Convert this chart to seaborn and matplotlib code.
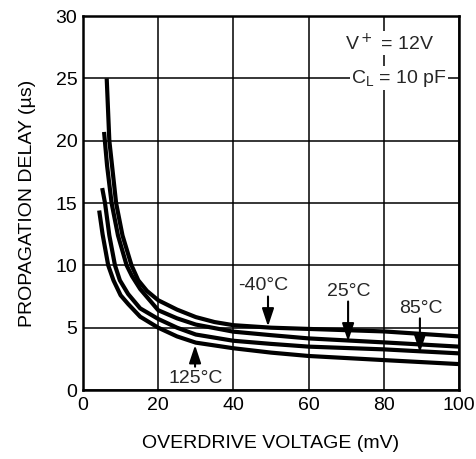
import matplotlib
matplotlib.use("Agg")
import matplotlib.pyplot as plt
import seaborn as sns
import pandas as pd

# Data
temps = ["-40°C", "25°C", "85°C", "125°C"]
x_m40 = [6.3, 7.0, 8.8, 10.5, 12.9, 14.7, 17, 20, 25, 30, 35, 40, 50, 60, 80, 100]
y_m40 = [25.0, 20.0, 15.0, 12.4, 10.0, 8.8, 7.95, 7.2, 6.45, 5.85, 5.45, 5.2, 5.0, 4.9, 4.7, 4.3]
x_25 = [5.6, 6.4, 7.6, 9.3, 11.6, 13, 15.2, 20, 25, 30, 40, 50, 60, 80, 100]
y_25 = [20.7, 18.0, 15.0, 12.4, 10.0, 9.15, 8.1, 6.4, 5.75, 5.25, 4.68, 4.4, 4.14, 3.82, 3.48]
x_85 = [5.1, 5.85, 7, 8.5, 9.8, 12, 15.2, 20, 25, 30, 40, 50, 60, 80, 100]
y_85 = [16.2, 15.0, 12.4, 10.0, 8.8, 7.7, 6.55, 5.7, 5.0, 4.45, 3.95, 3.7, 3.48, 3.26, 2.94]
x_125 = [4.3, 5.2, 6.7, 8.1, 10, 12, 15.2, 20, 25, 30, 40, 50, 60, 80, 100]
y_125 = [14.4, 12.5, 10.0, 8.8, 7.6, 6.9, 5.88, 5.0, 4.3, 3.8, 3.35, 3.0, 2.73, 2.4, 2.08]

x_ticks = [0, 20, 40, 60, 80, 100]
y_ticks = [0, 5, 10, 15, 20, 25, 30]

frames = []
for t, xs, ys in zip(temps, [x_m40, x_25, x_85, x_125], [y_m40, y_25, y_85, y_125]):
    frames.append(pd.DataFrame({"x": xs, "y": ys, "temp": t}))
df = pd.concat(frames, ignore_index=True)

sns.set_theme(style="white")
plt.rcParams["font.family"] = ["Liberation Sans", "DejaVu Sans"]

FS = 14
fig = plt.figure(figsize=(4.76, 4.59), dpi=100)
ax = fig.add_axes([0.1744, 0.1503, 0.9643 - 0.1744, 0.9651 - 0.1503])

sns.lineplot(data=df, x="x", y="y", hue="temp", palette=["black"] * 4,
             linewidth=3.0, legend=False, ax=ax, sort=False, estimator=None)
for ln in ax.lines:
    ln.set_solid_joinstyle("round")
    ln.set_solid_capstyle("butt")

ax.set_xlim(0, 100)
ax.set_ylim(0, 30)
ax.set_xticks(x_ticks)
ax.set_yticks(y_ticks)
ax.grid(True, color="black", linewidth=1.1)
ax.set_axisbelow(True)
for s in ax.spines.values():
    s.set_color("black")
    s.set_linewidth(1.8)
ax.tick_params(axis="both", length=0, labelsize=FS, colors="black")
ax.tick_params(axis="x", pad=5)
ax.tick_params(axis="y", pad=4)

ax.set_xlabel("OVERDRIVE VOLTAGE (mV)", fontsize=FS, color="black", labelpad=15)
ax.set_ylabel("PROPAGATION DELAY (\u00b5s)", fontsize=FS, color="black", labelpad=14)

bbox = dict(facecolor="white", edgecolor="none", pad=1.0)
ax.text(81.5, 27.8, "V$^+$ = 12V", fontsize=FS, ha="center", va="center", bbox=bbox)
ax.text(84, 25.0, "C$_\\mathregular{L}$ = 10 pF", fontsize=FS, ha="center", va="center", bbox=bbox)

arrow = dict(arrowstyle="-|>,head_width=0.3,head_length=0.9", color="black", lw=1.5,
             shrinkA=0, shrinkB=0)
ax.text(48, 8.4, "-40°C", fontsize=FS, ha="center", va="center")
ax.annotate("", xy=(49.2, 5.1), xytext=(49.2, 7.5), arrowprops=arrow)
ax.text(70.6, 7.9, "25°C", fontsize=FS, ha="center", va="center")
ax.annotate("", xy=(70.5, 3.9), xytext=(70.5, 7.1), arrowprops=arrow)
ax.text(89.8, 6.5, "85°C", fontsize=FS, ha="center", va="center")
ax.annotate("", xy=(89.6, 3.0), xytext=(89.6, 5.75), arrowprops=arrow)
ax.text(30, 0.93, "125°C", fontsize=FS, ha="center", va="center")
ax.annotate("", xy=(29.8, 3.6), xytext=(29.8, 1.87), arrowprops=arrow)

fig.savefig("out.png", dpi=100)
